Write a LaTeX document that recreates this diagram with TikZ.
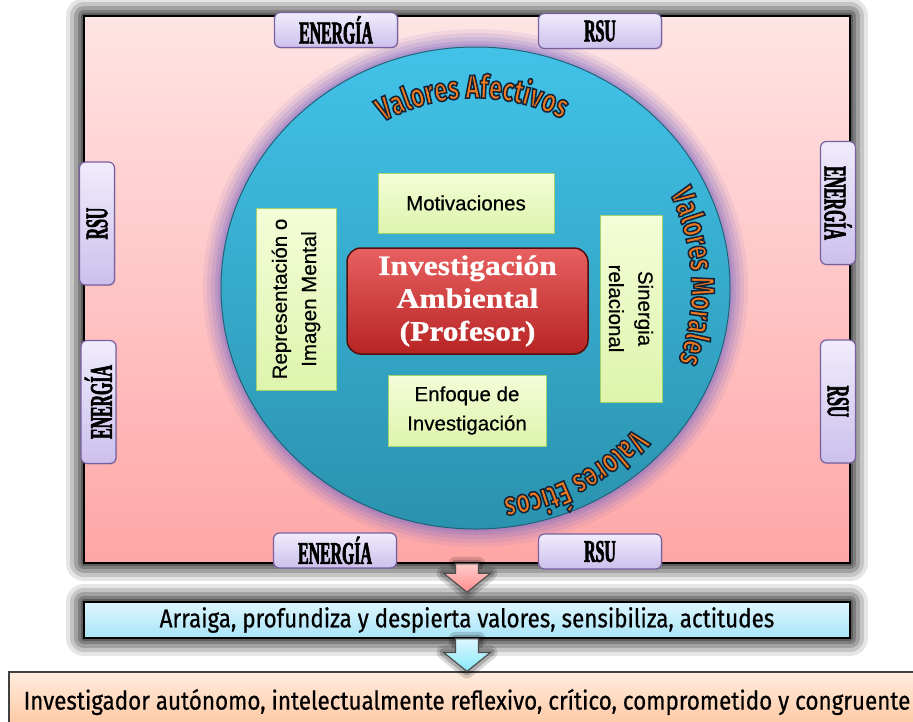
\documentclass[tikz,border=0pt]{standalone}
\usepackage{fontspec}
\setmainfont{Liberation Sans}
\newfontfamily\tabfont{Liberation Serif}[FakeStretch=0.5,FakeBold=2]
\newfontfamily\boxfont{Liberation Sans}[FakeBold=0.4]
\newfontfamily\redfont{Liberation Serif}[FakeStretch=1.12,FakeBold=0.8]
\newfontfamily\condfont{Fira Sans}[FakeStretch=0.87,FakeBold=0.6]
\newfontfamily\valfont{Fira Sans}[FakeStretch=0.72]
\usetikzlibrary{calc,decorations.text,shadows}
\newcommand{\pxu}{0.3mm}

\definecolor{pinktop}{RGB}{255,228,228}
\definecolor{pinkbot}{RGB}{255,166,166}
\definecolor{cyantop}{RGB}{66,194,232}
\definecolor{cyanbot}{RGB}{42,146,174}
\definecolor{cyanedge}{RGB}{30,100,120}
\definecolor{halo}{RGB}{128,108,196}
\definecolor{redtop}{RGB}{232,96,96}
\definecolor{redbot}{RGB}{184,36,36}
\definecolor{rededge}{RGB}{80,16,16}
\definecolor{greentop}{RGB}{244,253,216}
\definecolor{greenbot}{RGB}{222,244,172}
\definecolor{greenedge}{RGB}{160,210,110}
\definecolor{tabtop}{RGB}{240,236,252}
\definecolor{tabbot}{RGB}{204,192,236}
\definecolor{tabedge}{RGB}{120,96,160}
\definecolor{bartop}{RGB}{222,246,254}
\definecolor{barbot}{RGB}{168,228,248}
\definecolor{peachtop}{RGB}{255,236,222}
\definecolor{peachbot}{RGB}{255,196,156}
\definecolor{valorange}{RGB}{240,120,30}

% orange letters with a dark outline (fill, then stroke)
\newcommand{\valfmt}{\valfont\bfseries\fontsize{28}{28}\selectfont\color{valorange}%
  \special{pdf:literal direct 2 Tr 1.3 w 0.08 0.14 0.22 RG}}

% text bent along the big circle
\newcommand{\valtext}[4]{%
  \begin{scope}
  \path[decorate,decoration={text along path,text align=center,text={|\valfmt|#4}}]
    ($(C)+(#1:#3)$) arc[start angle=#1,end angle=#2,radius=#3];
  \end{scope}}

% block arrow pointing down
\newcommand{\blockdown}[3]{%
  \draw[#3] ($(#1)+(-11.5,0)$) -- ($(#2)+(-11.5,-19)$) -- ($(#2)+(-23.5,-19)$) -- (#2)
    -- ($(#2)+(23.5,-19)$) -- ($(#2)+(11.5,-19)$) -- ($(#1)+(11.5,0)$) -- cycle;}

\begin{document}
\begin{tikzpicture}[x=\pxu,y=-\pxu,
  glow/.style={
    preaction={draw=#1,draw opacity=.1,line width=36*\pxu,line join=round},
    preaction={draw=#1,draw opacity=.14,line width=28*\pxu,line join=round},
    preaction={draw=#1,draw opacity=.18,line width=20*\pxu,line join=round},
    preaction={draw=#1,draw opacity=.22,line width=12*\pxu,line join=round},
    preaction={draw=#1,draw opacity=.26,line width=6*\pxu,line join=round}},
  smallglow/.style={
    preaction={draw=black,draw opacity=.15,line width=14*\pxu,line join=round},
    preaction={draw=black,draw opacity=.2,line width=8*\pxu,line join=round}},
  bigframe/.style={glow=black,draw=black,line width=1.5*\pxu,top color=pinktop,bottom color=pinkbot,
    minimum width=766*\pxu,minimum height=547*\pxu},
  circ/.style={glow=halo,draw=cyanedge,line width=1*\pxu,top color=cyantop,bottom color=cyanbot},
  redbox/.style={draw=rededge,line width=1.5*\pxu,rounded corners=14*\pxu,top color=redtop,bottom color=redbot,
    text=white,align=center,font=\redfont\bfseries\fontsize{24}{28}\selectfont,
    minimum width=241*\pxu,minimum height=106*\pxu,drop shadow={opacity=.3,shadow xshift=1pt,shadow yshift=-1pt}},
  box/.style={draw=greenedge,line width=1*\pxu,top color=greentop,bottom color=greenbot,inner sep=0pt,
    align=center,font=\boxfont\fontsize{17.5}{25}\selectfont,drop shadow={opacity=.2,shadow xshift=1pt,shadow yshift=-1pt}},
  tab/.style={draw=tabedge,line width=1.2*\pxu,rounded corners=6*\pxu,top color=tabtop,bottom color=tabbot,
    minimum width=123*\pxu,minimum height=35*\pxu,inner sep=0pt,font=\tabfont\bfseries\fontsize{27}{27}\selectfont,
    drop shadow={opacity=.25,shadow xshift=1pt,shadow yshift=-1pt}},
  barbox/.style={glow=black,draw=black,line width=1.5*\pxu,top color=bartop,bottom color=barbot,
    minimum width=766*\pxu,minimum height=36*\pxu,inner sep=0pt,font=\condfont\fontsize{22}{22}\selectfont},
  endbox/.style={draw=black!75,line width=1.2*\pxu,top color=peachtop,bottom color=peachbot,
    minimum width=916*\pxu,minimum height=60*\pxu,inner sep=0pt,font=\condfont\fontsize{22}{22}\selectfont},
  pinkarrow/.style={smallglow,draw=black!70,line width=1.2*\pxu,top color=pinktop!60!pinkbot,bottom color=pinkbot!85!red},
  bluearrow/.style={smallglow,draw=black!70,line width=1.2*\pxu,top color=bartop,bottom color=barbot!80!cyan}]

  \useasboundingbox (0,0) rectangle (913,721);

  \node[bigframe] (frame) at (467,289.5) {};
  \coordinate (C) at (475.5,288);
  \draw[circ] (C) ellipse[x radius=254.5,y radius=241];

  \valtext{-135}{-47}{190}{Valores Afectivos}
  \valtext{-50}{44}{216}{Valores Morales}
  \valtext{20}{104}{212}{Valores Éticos}

  \node[redbox] (inv) at (467.5,301) {Investigación\\Ambiental\\(Profesor)};
  \node[box,minimum width=176*\pxu,minimum height=60*\pxu] (mot) at (466,203) {Motivaciones};
  \node[box,rotate=90,minimum width=182*\pxu,minimum height=80*\pxu] (rep) at (296,299) {Representación o\\Imagen Mental};
  \node[box,rotate=-90,minimum width=187*\pxu,minimum height=62*\pxu] (sin) at (631,308.5) {Sinergia\\relacional};
  \node[box,minimum width=158*\pxu,minimum height=71*\pxu] (enf) at (467,410.5) {Enfoque de\\Investigación};

  \foreach \x/\y/\r/\t [count=\i] in {336/30/0/ENERGÍA, 600/31/0/RSU, 97/223.5/90/RSU, 98.5/402/90/ENERGÍA,
      838/203/-90/ENERGÍA, 838/401.5/-90/RSU, 335/550.5/0/ENERGÍA, 600/551.5/0/RSU}
    \node[tab,rotate=\r] (tab\i) at (\x,\y) {\t};

  \node[barbox] (bar) at (467,620) {Arraiga, profundiza y despierta valores, sensibiliza, actitudes};
  \node[endbox] (goal) at (467,702) {Investigador autónomo, intelectualmente reflexivo, crítico, comprometido y congruente};

  \coordinate (tip1) at ($(bar.north)+(0,-9)$);
  \blockdown{frame.south}{tip1}{pinkarrow}
  \blockdown{bar.south}{goal.north}{bluearrow}
\end{tikzpicture}
\end{document}
